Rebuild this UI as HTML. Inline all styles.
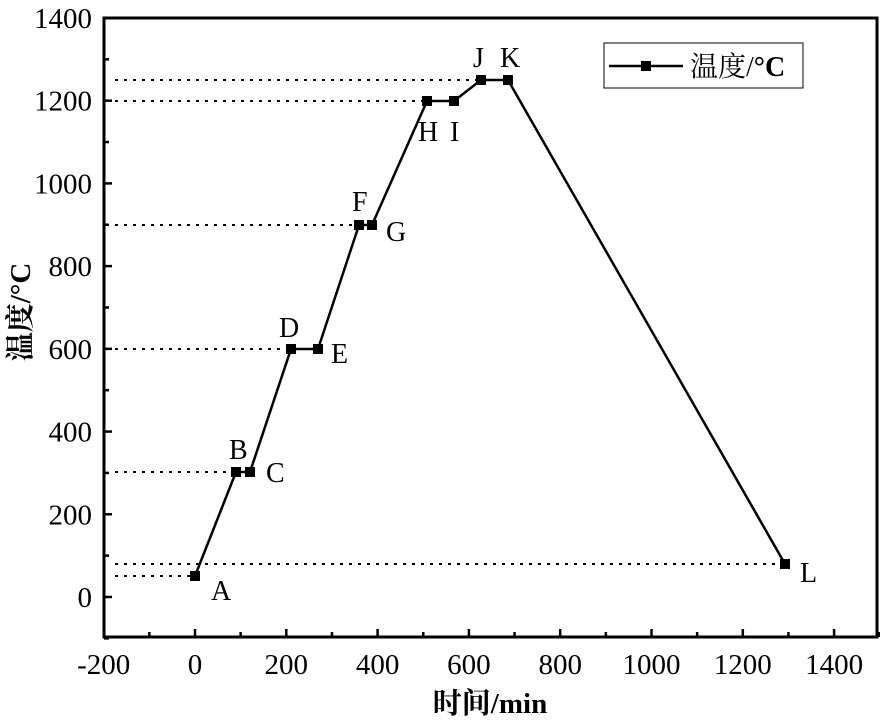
<!DOCTYPE html>
<html><head><meta charset="utf-8"><style>
html,body{margin:0;padding:0;background:#fff;}
svg{display:block;}
text{font-family:"Liberation Serif","Noto Serif CJK SC",serif;fill:#000;}
</style></head><body>
<svg width="880" height="720" viewBox="0 0 880 720" xmlns="http://www.w3.org/2000/svg">
<g id="ticks" stroke="#000" stroke-width="2.5"></g>
<rect x="104" y="18" width="773" height="619" fill="none" stroke="#000" stroke-width="3"/>
<g stroke="#000" stroke-width="2" stroke-dasharray="3,6" fill="none">
<line x1="115" y1="576" x2="195" y2="576"/>
<line x1="115" y1="472" x2="236" y2="472"/>
<line x1="115" y1="349" x2="291" y2="349"/>
<line x1="115" y1="225" x2="359" y2="225"/>
<line x1="115" y1="101" x2="427" y2="101"/>
<line x1="115" y1="80" x2="481" y2="80"/>
<line x1="115" y1="564" x2="785" y2="564"/>
</g>
<polyline fill="none" stroke="#000" stroke-width="2.5" points="195,576 236,472 250,472 291,349 318,349 359,225 372,225 427,101 454,101 481,80 508,80 785,564"/>
<g fill="#000">
<rect x="190" y="571" width="10" height="10"/><rect x="231" y="467" width="10" height="10"/>
<rect x="245" y="467" width="10" height="10"/><rect x="286" y="344" width="10" height="10"/>
<rect x="313" y="344" width="10" height="10"/><rect x="354" y="220" width="10" height="10"/>
<rect x="367" y="220" width="10" height="10"/><rect x="422" y="96" width="10" height="10"/>
<rect x="449" y="96" width="10" height="10"/><rect x="476" y="75" width="10" height="10"/>
<rect x="503" y="75" width="10" height="10"/><rect x="780" y="559" width="10" height="10"/>
</g>
<g font-size="28">
<text x="211" y="600">A</text><text x="229" y="459">B</text><text x="266" y="482">C</text>
<text x="279" y="337">D</text><text x="331" y="363">E</text><text x="352" y="211">F</text>
<text x="386" y="241">G</text><text x="418" y="141">H</text><text x="450" y="141">I</text>
<text x="473" y="67">J</text><text x="500" y="67">K</text><text x="800" y="582">L</text>
</g>
<g font-size="29" text-anchor="end" id="ylab"></g>
<g font-size="29" text-anchor="middle" id="xlab"></g>
<rect x="604" y="43" width="199" height="45" fill="#fff" stroke="#000" stroke-width="1"/>
<line x1="609" y1="66" x2="683" y2="66" stroke="#000" stroke-width="2.5"/>
<rect x="641" y="61" width="10" height="10" fill="#000"/>
<text x="690" y="76" font-size="28">温度/<tspan font-weight="bold">°C</tspan></text>
<text x="490" y="713" font-size="29" font-weight="bold" text-anchor="middle">时间/min</text>
<text transform="translate(30,312) rotate(-90)" font-size="29" font-weight="bold" text-anchor="middle">温度/°C</text>
<script>
var s=0.4565,x0=195,y0=597,sy=0.4136,t=document.getElementById('ticks'),xl=document.getElementById('xlab'),yl=document.getElementById('ylab'),NS='http://www.w3.org/2000/svg';
function L(a,b,c,d){var l=document.createElementNS(NS,'line');l.setAttribute('x1',a);l.setAttribute('y1',b);l.setAttribute('x2',c);l.setAttribute('y2',d);t.appendChild(l);}
function T(g,x,y,s2){var e=document.createElementNS(NS,'text');e.setAttribute('x',x);e.setAttribute('y',y);e.textContent=s2;g.appendChild(e);}
for(var v=-200;v<=1500;v+=100){var x=x0+v*s;var maj=v%200==0;if(v>-200)L(x,637,x,637-(maj?8:5));if(maj)T(xl,x,674,v);}
for(var v=-100;v<=1400;v+=100){var y=y0-v*sy;var maj=v%200==0;L(104,y,104+(maj?8:5),y);if(maj)T(yl,92,y+10,v);}
</script>
</svg>
</body></html>
